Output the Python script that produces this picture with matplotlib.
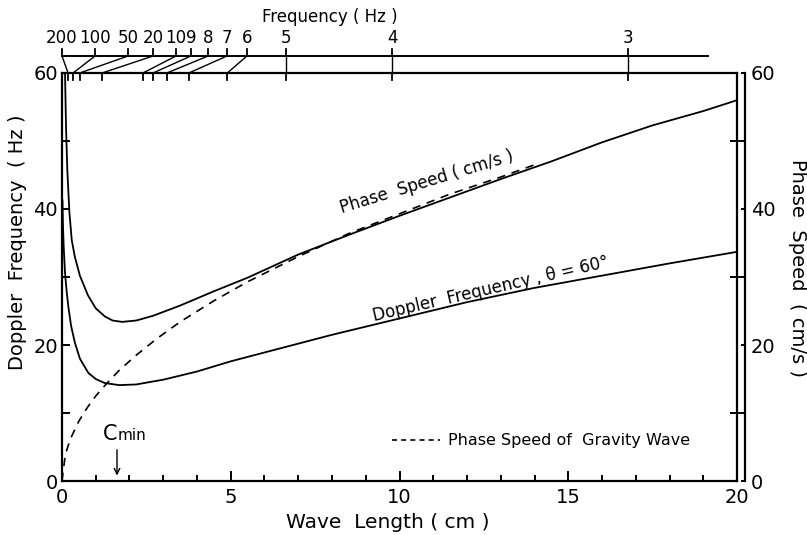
import numpy as np
import matplotlib
matplotlib.use('Agg')
import matplotlib.pyplot as plt
from matplotlib.ticker import MultipleLocator

# curves (wave length in cm)
PHASE_LAMBDA = [0.09, 0.12, 0.16, 0.22, 0.29, 0.38, 0.53, 0.77, 1.0, 1.27, 1.5, 1.78,
                2.2, 2.7, 3.5, 4.5, 5.5, 7.0, 8.5, 10.0, 11.5, 13.0, 14.5, 16.0, 17.5, 19.0, 20.0]
PHASE_SPEED = [60.0, 52.0, 45.5, 39.5, 35.4, 33.0, 30.2, 27.3, 25.4, 24.2, 23.6, 23.4,
               23.6, 24.3, 25.8, 27.9, 29.9, 33.3, 36.2, 39.0, 41.7, 44.4, 47.0, 49.8, 52.3, 54.4, 56.0]

DOPPLER_LAMBDA = [0.015, 0.03, 0.05, 0.09, 0.14, 0.19, 0.27, 0.385, 0.53, 0.78, 1.0, 1.27, 1.7,
                  2.2, 3.0, 4.0, 5.0, 6.0, 8.0, 10.0, 12.0, 14.0, 16.0, 18.0, 20.0]
DOPPLER_FREQ = [41.3, 37.5, 34.5, 30.6, 27.8, 25.6, 22.8, 20.3, 18.0, 15.9, 15.0, 14.4, 14.1,
                14.2, 14.9, 16.1, 17.6, 18.9, 21.5, 23.9, 26.3, 28.4, 30.2, 32.0, 33.7]

GRAVITY_LAMBDA = [0.0, 0.1, 0.25, 0.5, 0.75, 1.0, 1.3, 1.7, 2.2, 2.8, 3.5, 4.5, 5.5,
                  7.0, 8.5, 10.0, 11.5, 13.0, 14.0]
GRAVITY_SPEED = [0.0, 3.9, 6.2, 8.8, 10.8, 12.5, 14.2, 16.3, 18.5, 20.9, 23.4, 26.5, 29.3,
                 33.0, 36.4, 39.3, 42.2, 44.7, 46.5]

# top frequency scale: label, position on the upper strip, true wave length
FREQ_LABELS = ['200', '100', '50', '20', '10', '9', '8', '7', '6', '5', '4', '3']
FREQ_UPPER = [0.0, 0.98, 1.96, 2.70, 3.38, 3.82, 4.33, 4.89, 5.48, 6.64, 9.78, 16.77]
FREQ_LAMBDA = [0.18, 0.33, 0.53, 1.19, 2.40, 2.70, 3.11, 3.76, 4.90, 6.64, 9.78, 16.77]

C_MIN_LAMBDA = 1.63

plt.rcParams['font.family'] = 'DejaVu Sans'

fig = plt.figure(figsize=(8.07, 5.35), dpi=100)
ax = fig.add_axes([0.0768, 0.1009, 0.8365, 0.7627])
ax.set_xlim(0, 20)
ax.set_ylim(0, 60)

for s in ax.spines.values():
    s.set_linewidth(1.6)

ax.xaxis.set_major_locator(MultipleLocator(5))
ax.xaxis.set_minor_locator(MultipleLocator(1))
ax.tick_params(axis='x', which='major', direction='in', length=7.5, width=1.4,
               labelsize=14, pad=5, top=False)
ax.tick_params(axis='x', which='minor', direction='in', length=4.5, width=1.4, top=False)

ax.yaxis.set_major_locator(MultipleLocator(20))
ax.yaxis.set_minor_locator(MultipleLocator(10))
ax.tick_params(axis='y', which='both', direction='in', length=6, width=1.4,
               labelsize=14, pad=3, right=False)

ax2 = ax.twinx()
ax2.set_ylim(0, 60)
for side in ['top', 'bottom', 'left']:
    ax2.spines[side].set_visible(False)
ax2.spines['right'].set_position(('outward', 6))
ax2.spines['right'].set_linewidth(1.6)
ax2.yaxis.set_major_locator(MultipleLocator(20))
ax2.yaxis.set_minor_locator(MultipleLocator(10))
ax2.tick_params(axis='y', which='major', direction='in', length=3, width=1.4,
                labelsize=14, pad=4)
ax2.tick_params(axis='y', which='minor', direction='in', length=11, width=1.4)

# curves
ax.plot(DOPPLER_LAMBDA, DOPPLER_FREQ, color='black', lw=1.3)
ax2.plot(PHASE_LAMBDA, PHASE_SPEED, color='black', lw=1.3)
ax2.plot(GRAVITY_LAMBDA, GRAVITY_SPEED, color='black', lw=1.2, ls=(0, (5, 4)))

ax.text(10.8, 44.0, 'Phase  Speed ( cm/s )', rotation=17, ha='center', va='center', fontsize=12)
ax.text(12.7, 28.2, 'Doppler  Frequency , \u03b8 = 60\u00b0', rotation=13, ha='center',
        va='center', fontsize=12)

# C_min marker
ax.text(1.21, 6.0, 'C', fontsize=15, ha='left', va='baseline')
ax.text(1.66, 6.0, 'min', fontsize=11, ha='left', va='baseline')
ax.annotate('', xy=(C_MIN_LAMBDA, 0.4), xytext=(C_MIN_LAMBDA, 5.0),
            arrowprops=dict(arrowstyle='->', color='black', lw=1.0))

# legend for dashed line
ax.plot([9.78, 11.2], [6.0, 6.0], color='black', lw=1.2, ls=(0, (3, 2.5)))
ax.text(11.44, 6.0, 'Phase Speed of  Gravity Wave', fontsize=11.5, ha='left', va='center')

# top frequency strip
y_low, y_up, y_tick = 60.0, 62.5, 63.5
ax.plot([0, 19.14], [y_up, y_up], color='black', lw=1.4, clip_on=False)
for lab, xu, xl in zip(FREQ_LABELS, FREQ_UPPER, FREQ_LAMBDA):
    ax.plot([xu, xu], [y_up, y_tick], color='black', lw=1.3, clip_on=False)
    ax.plot([xu, xl], [y_up, y_low], color='black', lw=1.0, clip_on=False)
    ax.plot([xl, xl], [y_low, 59.0], color='black', lw=1.3, clip_on=False)
    ax.text(xu, 65.1, lab, fontsize=12, ha='center', va='center')
ax.text(7.94, 68.2, 'Frequency ( Hz )', fontsize=12, ha='center', va='center')

fig.text(388 / 807, 1 - 522 / 535, 'Wave  Length ( cm )', fontsize=14.5, ha='center', va='center')
fig.text(18 / 807, 1 - 242 / 535, 'Doppler  Frequency  ( Hz )', fontsize=14, rotation=90,
         ha='center', va='center')
fig.text(797 / 807, 1 - 268 / 535, 'Phase  Speed  ( cm/s )', fontsize=14, rotation=270,
         ha='center', va='center')

fig.savefig('out.png', dpi=100)
